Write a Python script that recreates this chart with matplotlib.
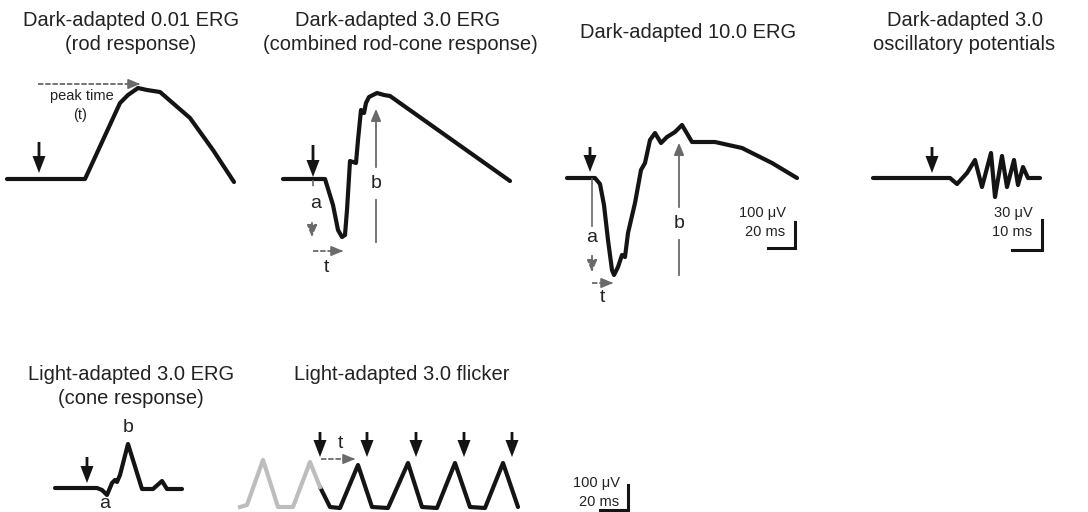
import matplotlib
matplotlib.use("Agg")
import matplotlib.pyplot as plt

plt.rcParams['font.family'] = ['Liberation Sans', 'DejaVu Sans']

# Waveform traces (pixel coordinates, y down)
rod_x = [7, 85, 120, 128, 138, 147, 160, 190, 213, 234]
rod_y = [179, 179, 103, 95, 88, 90, 92, 118, 150, 182]

combined_x = [283, 325, 333, 338, 342, 345, 347, 350, 356, 358, 361, 364, 366, 369, 377, 384, 390, 510]
combined_y = [179, 179, 205, 230, 237, 235, 210, 161, 163, 140, 110, 113, 103, 97, 93, 95, 96, 181]

dark10_x = [567, 595, 600, 604, 608, 612, 614, 618, 622, 625, 628, 635, 641, 645, 650, 655,
            661, 667, 675, 682, 692, 715, 742, 772, 797]
dark10_y = [178, 178, 184, 205, 240, 270, 275, 267, 255, 257, 233, 203, 170, 163, 140, 133,
            143, 137, 132, 125, 142, 142, 148, 163, 178]

ops_x = [873, 950, 957, 967, 975, 982, 991, 995, 1002, 1007, 1014, 1018, 1023, 1028, 1040]
ops_y = [178, 178, 184, 173, 160, 187, 153, 197, 156, 187, 160, 185, 167, 178, 178]

cone_x = [55, 97, 102, 107, 112, 115, 117, 120, 128, 142, 153, 162, 167, 182]
cone_y = [488, 488, 490, 495, 483, 480, 482, 475, 444, 489, 489, 481, 489, 489]

flicker_gray_x = [240, 247, 263, 278, 293, 310, 320]
flicker_gray_y = [507, 505, 460, 507, 507, 462, 487]
flicker_x = [320, 330, 340, 358, 372, 388, 408, 422, 437, 455, 470, 485, 503, 518]
flicker_y = [487, 507, 508, 465, 507, 508, 463, 507, 508, 463, 507, 508, 463, 507]

# stimulus flash arrows: x, top, tip
stim_x = [39, 313, 590, 932, 87, 320, 367, 416, 464, 512]
stim_top = [142, 145, 147, 147, 457, 432, 432, 432, 432, 432]
stim_tip = [173, 177, 172, 173, 483, 457, 457, 457, 457, 457]

titles = [
    ("Dark-adapted 0.01 ERG", 131, 20), ("(rod response)", 131, 44),
    ("Dark-adapted 3.0 ERG", 398, 20), ("(combined rod-cone response)", 400, 44),
    ("Dark-adapted 10.0 ERG", 688, 33),
    ("Dark-adapted 3.0", 965, 20), ("oscillatory potentials", 964, 44),
    ("Light-adapted 3.0 ERG", 131, 375), ("(cone response)", 131, 398),
    ("Light-adapted 3.0 flicker", 402, 375),
]

scale_bars = [
    ("100 \u03bcV", "20 ms", 786, 213, 795, 222, 248, 768),
    ("30 \u03bcV", "10 ms", 1033, 213, 1042, 220, 250, 1012),
    ("100 \u03bcV", "20 ms", 620, 483, 628, 485, 510, 600),
]

TRACE = '#141414'
ANNO = '#6a6a6a'
TXT = '#222222'

fig = plt.figure(figsize=(10.88, 5.12), dpi=100)
ax = fig.add_axes([0, 0, 1, 1])
ax.set_xlim(0, 1088)
ax.set_ylim(512, 0)
ax.axis('off')

lw = 3.0
for xs, ys in [(rod_x, rod_y), (combined_x, combined_y), (dark10_x, dark10_y),
               (ops_x, ops_y), (cone_x, cone_y), (flicker_x, flicker_y)]:
    ax.plot(xs, ys, color=TRACE, lw=lw, solid_joinstyle='round', solid_capstyle='round')
ax.plot(flicker_gray_x, flicker_gray_y, color='#bdbdbd', lw=lw, solid_joinstyle='round')

for x, y0, y1 in zip(stim_x, stim_top, stim_tip):
    ax.arrow(x, y0, 0, y1 - y0, width=2.8, head_width=13, head_length=17,
             length_includes_head=True, color=TRACE, lw=0)

for s, x, y in titles:
    ax.text(x, y, s, ha='center', va='center', fontsize=14.5, color=TXT)


def dashed_arrow(x0, y0, x1, y1):
    ax.plot([x0, x1 - 4], [y0, y1], color=ANNO, lw=1.3, ls=(0, (3, 1)))
    ax.annotate('', xy=(x1, y1), xytext=(x1 - 8, y1),
                arrowprops=dict(arrowstyle='-|>,head_length=0.6,head_width=0.25',
                                color=ANNO, lw=1.2, mutation_scale=12))


def small_down_arrow(x, y0, y1):
    ax.annotate('', xy=(x, y1), xytext=(x, y0),
                arrowprops=dict(arrowstyle='-|>,head_length=0.6,head_width=0.25',
                                color=ANNO, lw=1.3, ls='--', mutation_scale=12))


def b_arrow(x, y_bot, gap_bot, gap_top, y_tip, ytext):
    ax.plot([x, x], [y_bot, gap_bot], color=ANNO, lw=1.3)
    ax.annotate('', xy=(x, y_tip), xytext=(x, gap_top),
                arrowprops=dict(arrowstyle='-|>,head_length=0.6,head_width=0.25',
                                color=ANNO, lw=1.3, mutation_scale=12))
    ax.text(x, ytext, 'b', ha='center', va='center', fontsize=14, color=TXT)


# rod: peak time
dashed_arrow(38, 84, 143, 84)
ax.text(82, 96, 'peak time', ha='center', va='center', fontsize=10.5, color=TXT)
ax.text(80, 115, '(t)', ha='center', va='center', fontsize=10.5, color=TXT)

# combined response a/b/t
ax.plot([313, 313], [180, 188], color=ANNO, lw=1.2, ls='--')
ax.text(316, 203, 'a', ha='center', va='center', fontsize=14, color=TXT)
small_down_arrow(312, 220, 240)
dashed_arrow(313, 251, 346, 251)
ax.text(326, 267, 't', ha='center', va='center', fontsize=14, color=TXT)
b_arrow(376, 242, 200, 170, 106, 184)

# dark 10.0 a/b/t
ax.plot([592, 592], [179, 226], color=ANNO, lw=1.2)
ax.text(592, 238, 'a', ha='center', va='center', fontsize=14, color=TXT)
small_down_arrow(592, 253, 275)
dashed_arrow(592, 283, 616, 283)
ax.text(602, 298, 't', ha='center', va='center', fontsize=14, color=TXT)
b_arrow(679, 275, 240, 210, 140, 223)

# cone labels
ax.text(128, 428, 'b', ha='center', va='center', fontsize=14, color=TXT)
ax.text(105, 504, 'a', ha='center', va='center', fontsize=14, color=TXT)

# flicker t
dashed_arrow(321, 459, 358, 459)
ax.text(340, 443, 't', ha='center', va='center', fontsize=14, color=TXT)

# scale bars
for l1, l2, xr, yt, xb, yb0, yb1, xh in scale_bars:
    ax.text(xr, yt, l1, ha='right', va='center', fontsize=10.5, color=TXT)
    ax.text(xr - 1, yt + 19, l2, ha='right', va='center', fontsize=10.5, color=TXT)
    ax.plot([xb, xb, xh], [yb0, yb1, yb1], color=TRACE, lw=2.2, solid_joinstyle='miter')

fig.savefig('out.png', dpi=100)
